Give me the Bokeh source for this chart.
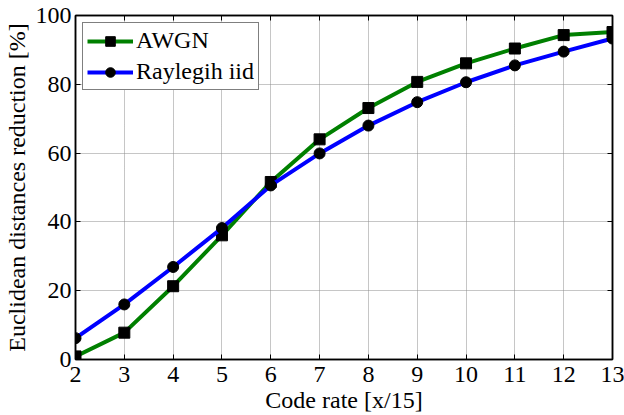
from bokeh.plotting import figure
from bokeh.models import Range1d, LinearAxis, FixedTicker, Legend, LegendItem
from bokeh.embed import file_html
from bokeh.resources import INLINE

code_rate = [2, 3, 4, 5, 6, 7, 8, 9, 10, 11, 12, 13]
awgn = [0.9, 7.8, 21.3, 36.1, 51.6, 64.0, 73.1, 80.7, 86.1, 90.4, 94.3, 95.2]
rayleigh = [6.2, 16.0, 26.9, 38.2, 50.6, 59.9, 68.0, 74.8, 80.6, 85.5, 89.5, 93.3]
x_ticks = list(range(2, 14))
y_ticks = [0, 20, 40, 60, 80, 100]

FONT = "Liberation Serif"
FS = "24px"

p = figure(width=624, height=415, output_backend="svg", toolbar_location=None,
           x_range=Range1d(2, 13), y_range=Range1d(0, 100),
           min_border_left=75, min_border_right=12, min_border_top=15, min_border_bottom=55)
p.background_fill_color = "white"
p.border_fill_color = "white"
p.outline_line_color = "black"
p.outline_line_width = 1.5

for ax in (p.xaxis[0], p.yaxis[0]):
    ax.major_label_text_font = FONT
    ax.major_label_text_font_size = FS
    ax.major_label_text_color = "black"
    ax.axis_label_text_font = FONT
    ax.axis_label_text_font_size = FS
    ax.axis_label_text_font_style = "normal"
    ax.axis_label_text_color = "black"
    ax.major_tick_in = 5
    ax.major_tick_out = 0
    ax.minor_tick_line_color = None
    ax.axis_line_color = "black"
    ax.axis_line_width = 1.5
    ax.major_tick_line_color = "black"

p.xaxis[0].ticker = FixedTicker(ticks=x_ticks)
p.yaxis[0].ticker = FixedTicker(ticks=y_ticks)
p.xaxis[0].axis_label = "Code rate [x/15]"
p.yaxis[0].axis_label = "Euclidean distances reduction [%]"
p.xaxis[0].major_label_standoff = 7
p.yaxis[0].major_label_standoff = 4
p.xaxis[0].axis_label_standoff = 2
p.yaxis[0].axis_label_standoff = 3

top = LinearAxis(ticker=FixedTicker(ticks=x_ticks), major_label_text_font_size="0px",
                 major_tick_in=5, major_tick_out=0, minor_tick_line_color=None,
                 axis_line_color="black", axis_line_width=1.5, major_label_text_color=None)
right = LinearAxis(ticker=FixedTicker(ticks=y_ticks), major_label_text_font_size="0px",
                   major_tick_in=5, major_tick_out=0, minor_tick_line_color=None,
                   axis_line_color="black", axis_line_width=1.5, major_label_text_color=None)
top.major_label_standoff = 0
right.major_label_standoff = 0
p.add_layout(top, "above")
p.add_layout(right, "right")

p.xgrid.ticker = FixedTicker(ticks=x_ticks)
p.ygrid.ticker = FixedTicker(ticks=y_ticks)
for g in (p.xgrid[0], p.ygrid[0]):
    g.grid_line_color = "#8c8c8c"
    g.grid_line_dash = "1 1"
    g.grid_line_width = 1

l1 = p.line(code_rate, awgn, line_color="#008000", line_width=4)
m1 = p.scatter(code_rate, awgn, marker="square", size=11, fill_color="black", line_color="black")
l2 = p.line(code_rate, rayleigh, line_color="#0000ff", line_width=4)
m2 = p.scatter(code_rate, rayleigh, marker="circle", size=11, fill_color="black", line_color="black")

legend = Legend(items=[LegendItem(label="AWGN", renderers=[l1, m1]),
                       LegendItem(label="Raylegih iid", renderers=[l2, m2])],
                location="top_left")
legend.label_text_font = FONT
legend.label_text_font_size = FS
legend.label_text_color = "black"
legend.border_line_color = "black"
legend.border_line_width = 1.5
legend.glyph_width = 46
legend.glyph_height = 24
legend.label_height = 24
legend.spacing = 4
legend.padding = 4
legend.margin = 7
legend.label_standoff = 3
legend.background_fill_alpha = 1
p.add_layout(legend, "center")

open("out.html", "w").write(file_html(p, INLINE))
